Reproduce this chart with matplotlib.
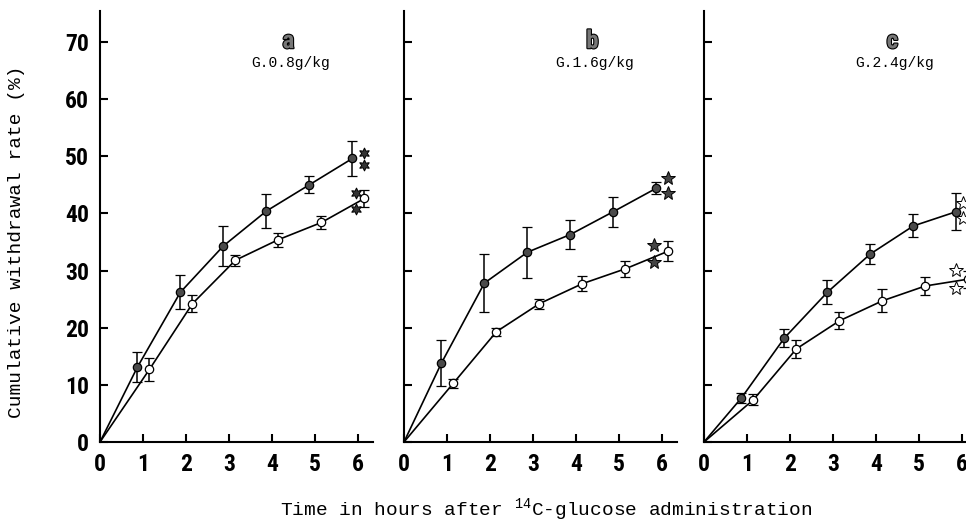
import numpy as np
import matplotlib
matplotlib.use("Agg")
import matplotlib.pyplot as plt
import matplotlib.patheffects as pe

plt.rcParams["mathtext.fontset"] = "custom"
plt.rcParams["mathtext.rm"] = "Liberation Mono"

# sampling times (h)
hours = np.array([1, 2, 3, 4, 5, 6])

# cumulative withdrawal rate (%) ± error, filled = treated, open = control
a_filled = [13.1, 26.2, 34.3, 40.4, 45.0, 49.6]
a_filled_err = [2.6, 3.0, 3.5, 3.0, 1.5, 3.0]
a_open = [12.7, 24.2, 31.8, 35.4, 38.4, 42.6]
a_open_err = [2.0, 1.5, 1.0, 1.2, 1.1, 1.5]

b_filled = [13.8, 27.8, 33.2, 36.3, 40.3, 44.4]
b_filled_err = [4.0, 5.1, 4.5, 2.5, 2.6, 1.0]
b_open = [10.3, 19.3, 24.2, 27.7, 30.3, 33.4]
b_open_err = [0.8, 0.7, 0.9, 1.3, 1.4, 1.8]

c_filled = [7.7, 18.2, 26.2, 32.9, 37.8, 40.3]
c_filled_err = [0.9, 1.5, 2.1, 1.8, 2.0, 3.2]
c_open = [7.4, 16.3, 21.2, 24.7, 27.3, 28.5]
c_open_err = [1.0, 1.6, 1.5, 2.0, 1.5, 1.5]

# significance symbols next to the 6 h values
a_sig_filled = [50.6, 48.5]
a_sig_open = [43.6, 40.8]
b_sig_filled = [46.2, 43.6]
b_sig_open = [34.5, 31.5]
c_sig_filled = [41.8, 39.2]
c_sig_open = [30.1, 27.0]

panel_letters = ["a", "b", "c"]
doses = ["G.0.8g/kg", "G.1.6g/kg", "G.2.4g/kg"]
y_ticks = [0, 10, 20, 30, 40, 50, 60, 70]
x_ticks = [0, 1, 2, 3, 4, 5, 6]

W, H = 966, 523
fig = plt.figure(figsize=(W / 100, H / 100), dpi=100)

narrow = ["Roboto Condensed", "DejaVu Sans"]
tick_font = dict(family=narrow, weight="bold", stretch="condensed", size=17)
mono = ["Liberation Mono", "DejaVu Sans Mono"]

panels = [
    (100, a_filled, a_filled_err, a_open, a_open_err, a_sig_filled, a_sig_open,
     (6, 1, 0), 8, "#333333", (6.13, 5.96)),
    (404, b_filled, b_filled_err, b_open, b_open_err, b_sig_filled, b_sig_open,
     "*", 10, "#444444", (6.14, 5.82)),
    (704, c_filled, c_filled_err, c_open, c_open_err, c_sig_filled, c_sig_open,
     "*", 10, "white", (6.03, 5.85)),
]

ax_w = 273
ax_bottom = 442
ax_top = 11

for i, (left, yf, ef, yo, eo, sf, so, sig_marker, sig_size, sig_face, sig_x) in enumerate(panels):
    ax = fig.add_axes([left / W, (H - ax_bottom) / H, ax_w / W, (ax_bottom - ax_top) / H])
    ax.set_xlim(0, 6.35)
    ax.set_ylim(0, 75.4)

    xf = hours - 0.13
    xo = hours + 0.15

    # connecting lines start at the origin
    ax.plot(np.r_[0, xf], np.r_[0, yf], color="black", lw=1.2, zorder=2)
    ax.plot(np.r_[0, xo], np.r_[0, yo], color="black", lw=1.2, zorder=2)

    ax.errorbar(xf, yf, yerr=ef, fmt="o", ms=6, mfc="#4a4a4a", mec="black", mew=0.9,
                ecolor="black", elinewidth=1.1, capsize=3.5, capthick=1.1, zorder=3)
    ax.errorbar(xo, yo, yerr=eo, fmt="o", ms=6, mfc="white", mec="black", mew=0.9,
                ecolor="black", elinewidth=1.1, capsize=3.5, capthick=1.1, zorder=3)

    ax.plot([sig_x[0]] * len(sf), sf, ls="none", marker=sig_marker, ms=sig_size,
            mfc=sig_face, mec="black", mew=0.7, zorder=4, clip_on=False)
    ax.plot([sig_x[1]] * len(so), so, ls="none", marker=sig_marker, ms=sig_size,
            mfc=sig_face, mec="black", mew=0.7, zorder=4, clip_on=False)

    for side in ["top", "right"]:
        ax.spines[side].set_visible(False)
    for side in ["left", "bottom"]:
        ax.spines[side].set_linewidth(1.5)

    ax.set_xticks(x_ticks)
    ax.set_yticks(y_ticks)
    ax.tick_params(direction="in", length=6, width=1.5, pad=8)
    ax.set_xticklabels([str(t) for t in x_ticks], fontdict=tick_font)
    if i == 0:
        ax.set_yticklabels([str(t) for t in y_ticks], fontdict=tick_font)
    else:
        ax.set_yticklabels([])

    ax.text(0.69, 0.93, panel_letters[i], transform=ax.transAxes, ha="center", va="center",
            fontsize=18, fontweight="bold", fontstretch="condensed", color="#777777",
            family=narrow,
            path_effects=[pe.withStroke(linewidth=1.6, foreground="black")])
    ax.text(0.70, 0.879, doses[i], transform=ax.transAxes, ha="center", va="center",
            fontsize=10.5, family=mono)

fig.text(17 / W, 1 - 242 / H, "Cumulative withdrawal rate (%)", rotation=90,
         ha="center", va="center", fontsize=14, family=mono)
fig.text(546 / W, 1 - 516 / H, r"Time in hours after $^{14}$C-glucose administration",
         ha="center", va="baseline", fontsize=14, family=mono)

fig.savefig("out.png", dpi=100)
